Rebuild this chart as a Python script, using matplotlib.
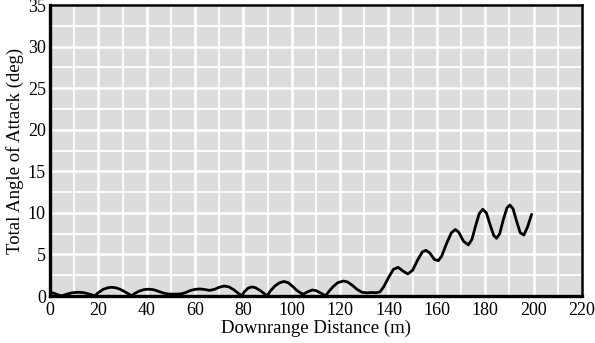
import numpy as np
import matplotlib
matplotlib.use('Agg')
import matplotlib.pyplot as plt
from matplotlib.ticker import MultipleLocator

# downrange distance (m) and total angle of attack (deg)
distance = [0, 2, 3.5, 4.8, 7, 9, 11.7, 14, 16, 18.6,
            20, 22, 24, 25.5, 27, 29, 31, 32.5, 33.8,
            35, 37, 39, 41, 43, 45, 47, 49, 52, 54, 56, 58, 60, 62, 64, 66, 68,
            70, 72, 74, 76, 78, 79.3, 80.5, 82, 83.5, 85, 87, 88.8, 89.9,
            91, 93, 95, 96.8, 98.5, 100, 102, 104, 105, 106.5, 108.5, 110, 112, 114,
            115.5, 117, 119, 121.3, 123, 125, 127, 129, 131, 133, 135, 136.5,
            138, 140, 142, 144, 146, 148, 150, 152, 154, 155.5, 157, 159, 160.6,
            162, 164, 166, 167.6, 169, 171, 173, 174.5, 176, 177.5, 179, 180.5,
            182, 183.5, 184.7, 186, 187.5, 189, 190.2, 191.5, 193, 194.5, 196,
            197.5, 199.2]
angle = [0.45, 0.3, 0.12, 0.03, 0.22, 0.38, 0.45, 0.4, 0.25, 0.03,
         0.4, 0.8, 1.0, 1.05, 1.0, 0.82, 0.5, 0.25, 0.03,
         0.3, 0.6, 0.78, 0.82, 0.75, 0.55, 0.35, 0.24, 0.22, 0.25, 0.4, 0.65, 0.8, 0.85, 0.78, 0.68, 0.8,
         1.05, 1.2, 1.1, 0.75, 0.3, 0.03, 0.55, 0.95, 1.1, 1.0, 0.65, 0.25, 0.03,
         0.55, 1.2, 1.6, 1.75, 1.6, 1.25, 0.7, 0.3, 0.25, 0.5, 0.72, 0.65, 0.35, 0.03,
         0.6, 1.1, 1.6, 1.8, 1.7, 1.3, 0.8, 0.45, 0.38, 0.42, 0.4, 0.5,
         1.1, 2.2, 3.2, 3.45, 3.0, 2.65, 3.1, 4.3, 5.3, 5.5, 5.2, 4.4, 4.25,
         4.8, 6.3, 7.6, 8.0, 7.7, 6.6, 6.15, 6.8, 8.4, 9.9, 10.43, 10.0,
         8.6, 7.3, 6.95, 7.5, 9.2, 10.6, 10.95, 10.5, 9.0, 7.6, 7.34,
         8.3, 9.83]

plt.rcParams['font.family'] = ['Liberation Serif', 'DejaVu Serif']

fig = plt.figure(figsize=(5.95, 3.43), dpi=100)
ax = fig.add_axes([0.084, 0.137, 0.894, 0.848])
ax.set_facecolor('#dcdcdc')

ax.plot(distance, angle, color='black', linewidth=2.0, solid_capstyle='round')

ax.set_xlim(0, 220)
ax.set_ylim(0, 35)
ax.xaxis.set_major_locator(MultipleLocator(20))
ax.xaxis.set_minor_locator(MultipleLocator(10))
ax.yaxis.set_major_locator(MultipleLocator(5))
ax.yaxis.set_minor_locator(MultipleLocator(2.5))
ax.grid(which='major', color='white', linewidth=1.8)
ax.grid(which='minor', color='white', linewidth=1.3)
ax.set_axisbelow(True)
ax.tick_params(which='both', length=0, labelsize=13)
ax.tick_params(axis='x', pad=4)
ax.tick_params(axis='y', pad=3)

for side in ['left', 'bottom']:
    ax.spines[side].set_linewidth(2.4)
for side in ['top', 'right']:
    ax.spines[side].set_linewidth(1.8)

ax.set_xlabel('Downrange Distance (m)', fontsize=13.5, labelpad=1)
ax.set_ylabel('Total Angle of Attack (deg)', fontsize=13.5, labelpad=3)

plt.savefig('out.png', dpi=100)
